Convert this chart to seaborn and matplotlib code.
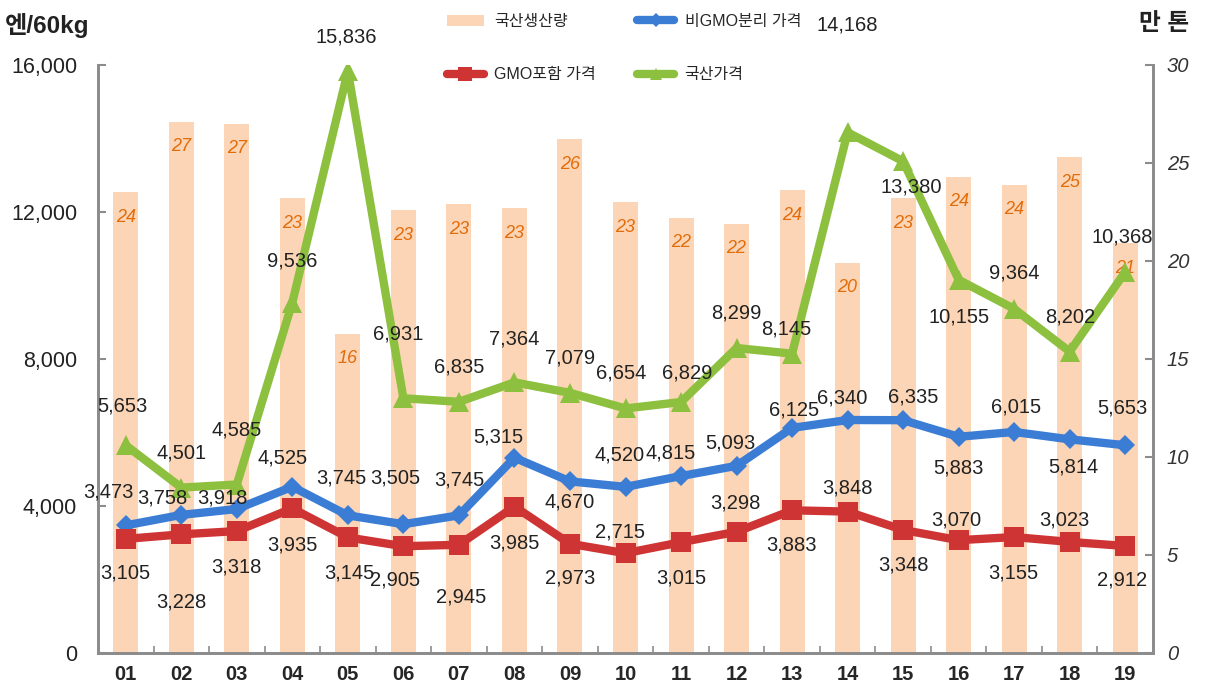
import numpy as np
import pandas as pd
import matplotlib
matplotlib.use("Agg")
import matplotlib.pyplot as plt
from matplotlib.lines import Line2D
from matplotlib.patches import Patch
import seaborn as sns

# ---------------- data ----------------
years = ["01", "02", "03", "04", "05", "06", "07", "08", "09", "10",
         "11", "12", "13", "14", "15", "16", "17", "18", "19"]
production = [23.5, 27.1, 27.0, 23.2, 16.3, 22.6, 22.9, 22.7, 26.2, 23.0,
              22.2, 21.9, 23.6, 19.9, 23.2, 24.3, 23.9, 25.3, 20.9]  # 만 톤
non_gmo_price = [3473, 3758, 3918, 4525, 3745, 3505, 3745, 5315, 4670, 4520,
                 4815, 5093, 6125, 6340, 6335, 5883, 6015, 5814, 5653]
gmo_price = [3105, 3228, 3318, 3935, 3145, 2905, 2945, 3985, 2973, 2715,
             3015, 3298, 3883, 3848, 3348, 3070, 3155, 3023, 2912]
domestic_price = [5653, 4501, 4585, 9536, 15836, 6931, 6835, 7364, 7079, 6654,
                  6829, 8299, 8145, 14168, 13380, 10155, 9364, 8202, 10368]
legend_labels = ["국산생산량", "비GMO분리 가격", "GMO포함 가격", "국산가격"]
left_title = "엔/60kg"
right_title = "만 톤"

# label offsets in pixels (layout only)
green_off = [(-3, 39), (0, 35), (0, 55), (0, 42), (-2, 34), (-5, 64), (0, 35), (0, 43), (0, 35), (-4, 35),
             (6, 29), (0, 35), (-6, 25), (0, 107), (8, -26), (0, -37), (0, 36), (0, 35), (-3, 35)]
blue_off = [(-17, 33), (-19, 17), (-14, 11), (-10, 29), (-7, 37), (-8, 46), (0, 35), (-16, 21), (0, -21), (-6, 32),
            (-10, 23), (-6, 23), (2, 18), (-5, 22), (10, 23), (0, -31), (2, 25), (4, -28), (-3, 37)]
red_off = [(0, -34), (0, -68), (0, -36), (0, -37), (1, -36), (-8, -34), (2, -52), (0, -36), (0, -34), (-6, 21),
           (0, -36), (-1, 29), (-1, -35), (0, 24), (0, -35), (-2, 20), (-1, -36), (-5, 22), (-3, -34)]

# ---------------- style ----------------
sns.set_theme(style="white")
plt.rcParams["font.family"] = ["Liberation Sans", "Noto Sans CJK KR", "DejaVu Sans"]

bar_color = "#FBD5B5"
bar_text = "#E36C0A"
blue = "#3B7DD4"
red = "#CF3434"
green = "#8DC03F"
axis_gray = "#8C8C8C"

fig = plt.figure(figsize=(12.07, 6.89), dpi=100)
ax = fig.add_axes([98 / 1207, 1 - 653 / 689, (1153 - 98) / 1207, (653 - 65) / 689])

x = np.arange(len(years))
df = pd.DataFrame({"year": years, "prod": production})
sns.barplot(data=df, x="year", y="prod", ax=ax, color=bar_color, width=0.45,
            saturation=1, edgecolor="none")
ax.set_ylim(0, 30)
ax.set_xlim(-0.5, len(years) - 0.5)
for xi, v in zip(x, production):
    ax.annotate(f"{v:.0f}", (xi, v), xytext=(0, -25), textcoords="offset pixels",
                ha="center", va="center", color=bar_text, fontsize=13, style="italic")

ax2 = ax.twinx()
ax2.set_ylim(0, 16000)
series = [
    (non_gmo_price, blue, "D", 10, blue_off),
    (gmo_price, red, "s", 15, red_off),
    (domestic_price, green, "^", 14, green_off),
]
for vals, col, mk, ms, offs in series:
    sns.lineplot(x=x, y=vals, ax=ax2, color=col, linewidth=6, marker=mk,
                 markersize=ms, markeredgewidth=0, markerfacecolor=col, zorder=3,
                 solid_joinstyle="round", solid_capstyle="round")
for vals, col, mk, ms, offs in series:
    for xi, v, (dx, dy) in zip(x, vals, offs):
        ax2.annotate(f"{v:,}", (xi, v), xytext=(dx, dy), textcoords="offset pixels",
                     ha="center", va="center", fontsize=14.5, color="#222222", zorder=5)

# axes: bars axis on right, prices axis on left
ax.yaxis.tick_right()
ax.yaxis.set_label_position("right")
ax2.yaxis.tick_left()
ax2.yaxis.set_label_position("left")
ax.set_yticks([0, 5, 10, 15, 20, 25, 30])
ax2.set_yticks([0, 4000, 8000, 12000, 16000])
ax2.set_yticklabels([f"{t:,}" for t in [0, 4000, 8000, 12000, 16000]])
ax.set_yticklabels([str(t) for t in [0, 5, 10, 15, 20, 25, 30]])
ax.set_xlabel("")
ax.set_ylabel("")
ax2.set_ylabel("")

for a in (ax, ax2):
    a.spines["top"].set_visible(False)
    for s in ("left", "right", "bottom"):
        a.spines[s].set_color(axis_gray)
        a.spines[s].set_linewidth(2)
    a.grid(False)

ax.tick_params(axis="y", which="major", direction="in", length=6, width=1.5,
               color=axis_gray, labelsize=14.5, pad=10, right=True, left=False)
for lbl in ax.get_yticklabels():
    lbl.set_style("italic")
    lbl.set_color("#333333")
ax2.tick_params(axis="y", which="major", direction="in", length=6, width=1.5,
                color=axis_gray, labelsize=15.5, pad=15, left=True, right=False,
                labelcolor="#222222")
ax.set_xticks(x)
ax.set_xticks(np.arange(0.5, len(years) - 1, 1), minor=True)
ax.tick_params(axis="x", which="major", length=0, labelsize=14.5, pad=9)
ax.tick_params(axis="x", which="minor", direction="in", length=5, width=1.2,
               color=axis_gray, bottom=True)
for lbl in ax.get_xticklabels():
    lbl.set_fontweight("bold")
ax2.tick_params(axis="x", bottom=False, labelbottom=False)

# titles
fig.text(5 / 1207, 1 - 26 / 689, left_title, fontsize=17.5, fontweight="bold",
         ha="left", va="center", color="#222222")
fig.text(1139 / 1207, 1 - 24 / 689, right_title, fontsize=17, fontweight="bold",
         ha="left", va="center", color="#222222")

# legend
handles = [
    Patch(facecolor=bar_color, edgecolor="none"),
    Line2D([0], [0], color=red, lw=6, marker="s", ms=10, markeredgewidth=0,
           solid_capstyle="round"),
    Line2D([0], [0], color=blue, lw=6, marker="D", ms=7, markeredgewidth=0,
           solid_capstyle="round"),
    Line2D([0], [0], color=green, lw=6, marker="^", ms=9, markeredgewidth=0,
           solid_capstyle="round"),
]
labels = [legend_labels[0], legend_labels[2], legend_labels[1], legend_labels[3]]
fig.legend(handles, labels, loc="center", bbox_to_anchor=(624 / 1207, 1 - 48 / 689),
           ncol=2, frameon=False, fontsize=11.5, handlelength=2.3, handleheight=0.7,
           handletextpad=0.65, columnspacing=2.6, labelspacing=2.4, borderpad=0)

fig.savefig("out.png", dpi=100)
